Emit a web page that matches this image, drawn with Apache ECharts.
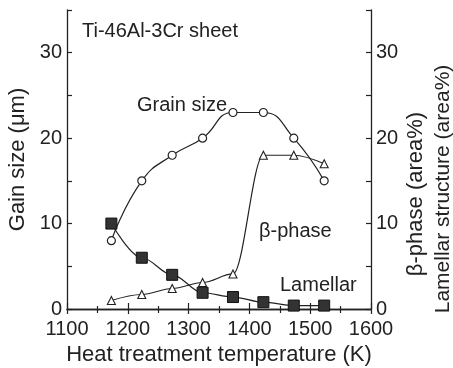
<!DOCTYPE html>
<html><head><meta charset="utf-8">
<script src="https://cdn.jsdelivr.net/npm/echarts@6/dist/echarts.min.js"></script>
<style>html,body{margin:0;padding:0;background:#fff}#c{width:453px;height:368px}</style>
</head><body><div id="c"></div>
<script>
const temperatures = [1173, 1223, 1273, 1323, 1373, 1423, 1473, 1523];
const grainSize   = [8, 15, 18, 20, 23, 23, 20, 15];
const betaPhase   = [1.0, 1.7, 2.4, 3.1, 4.1, 18, 18, 17];
const lamellar    = [10, 6.0, 4.0, 1.9, 1.4, 0.8, 0.4, 0.4];
const xTickLabels = [1100, 1200, 1300, 1400, 1500, 1600];
const yTickLabels = [0, 10, 20, 30];
const plotLabels  = ['Ti-46Al-3Cr sheet', 'Grain size', 'β-phase', 'Lamellar'];
const axisTitles  = ['Heat treatment temperature (K)', 'Gain size (μm)', 'β-phase (area%)', 'Lamellar structure (area%)'];

const INK = '#222';
const FONT = '"Liberation Sans", Arial, Helvetica, sans-serif';
const pairs = arr => temperatures.map((t, i) => [t, arr[i]]);

const chart = echarts.init(document.getElementById('c'), null, {renderer: 'canvas'});

const xBase = {
  type: 'value', min: 1100, max: 1600, interval: 100,
  axisLine: {show: true, lineStyle: {color: INK, width: 1.3}},
  splitLine: {show: false},
  minorSplitLine: {show: false}
};
const yBase = {
  type: 'value', min: 0, max: 35, interval: 5,
  axisLine: {show: true, lineStyle: {color: INK, width: 1.3}},
  axisTick: {show: true, inside: true, length: 5, lineStyle: {color: INK, width: 1.2}},
  splitLine: {show: false},
  axisLabel: {
    show: true, color: INK, fontFamily: FONT, fontSize: 20, margin: 5,
    formatter: v => yTickLabels.includes(v) ? String(v) : ''
  }
};

chart.setOption({
  backgroundColor: '#fff',
  animation: false,
  grid: {left: 67, right: 82, top: 10, bottom: 59, containLabel: false, outerBoundsMode: 'none'},
  xAxis: [
    Object.assign({}, xBase, {
      position: 'bottom',
      name: axisTitles[0], nameLocation: 'middle', nameGap: 33,
      nameTextStyle: {color: INK, fontFamily: FONT, fontSize: 22},
      axisTick: {show: true, inside: true, length: 6, lineStyle: {color: INK, width: 1.2}},
      minorTick: {show: true, splitNumber: 2, length: 3, lineStyle: {color: INK, width: 1.2}},
      axisLabel: {show: true, color: INK, fontFamily: FONT, fontSize: 20, margin: 10,
        formatter: v => xTickLabels.includes(v) ? String(v) : ''}
    }),
    Object.assign({}, xBase, {
      position: 'top',
      axisTick: {show: true, inside: true, length: 5, lineStyle: {color: INK, width: 1.2}},
      minorTick: {show: true, splitNumber: 2, length: 4, lineStyle: {color: INK, width: 1.2}},
      axisLabel: {show: false}
    })
  ],
  yAxis: [
    Object.assign({}, yBase, {
      position: 'left',
      name: axisTitles[1], nameLocation: 'middle', nameGap: 36,
      nameTextStyle: {color: INK, fontFamily: FONT, fontSize: 22}
    }),
    Object.assign({}, yBase, {position: 'right'})
  ],
  series: [
    {
      name: 'Grain size', type: 'line', xAxisIndex: 0, yAxisIndex: 0,
      data: pairs(grainSize), smooth: 0.5,
      symbol: 'circle', symbolSize: 8,
      lineStyle: {color: INK, width: 1.2},
      itemStyle: {color: '#fff', borderColor: INK, borderWidth: 1.2},
      z: 3
    },
    {
      name: 'β-phase', type: 'line', xAxisIndex: 0, yAxisIndex: 1,
      data: pairs(betaPhase), smooth: 0.35, smoothMonotone: 'x',
      symbol: 'triangle', symbolSize: 8,
      lineStyle: {color: INK, width: 1.2},
      itemStyle: {color: '#fff', borderColor: INK, borderWidth: 1.1},
      z: 3
    },
    {
      name: 'Lamellar', type: 'line', xAxisIndex: 0, yAxisIndex: 1,
      data: pairs(lamellar), smooth: 0.35, smoothMonotone: 'x',
      symbol: 'rect', symbolSize: 11,
      lineStyle: {color: INK, width: 1.2},
      itemStyle: {color: '#333', borderColor: '#111', borderWidth: 1},
      z: 4
    }
  ],
  graphic: [
    {type: 'text', x: 82, y: 31, style: {text: plotLabels[0], font: '20px ' + FONT, fill: INK, align: 'left', verticalAlign: 'middle', textAlign: 'left', textVerticalAlign: 'middle'}},
    {type: 'text', x: 137, y: 105, style: {text: plotLabels[1], font: '20px ' + FONT, fill: INK, align: 'left', verticalAlign: 'middle', textAlign: 'left', textVerticalAlign: 'middle'}},
    {type: 'text', x: 259, y: 231, style: {text: plotLabels[2], font: '20px ' + FONT, fill: INK, align: 'left', verticalAlign: 'middle', textAlign: 'left', textVerticalAlign: 'middle'}},
    {type: 'text', x: 280, y: 285, style: {text: plotLabels[3], font: '20px ' + FONT, fill: INK, align: 'left', verticalAlign: 'middle', textAlign: 'left', textVerticalAlign: 'middle'}},
    {type: 'text', x: 416, y: 194, rotation: Math.PI / 2, style: {text: axisTitles[2], font: '22px ' + FONT, fill: INK, align: 'center', verticalAlign: 'middle', textAlign: 'center', textVerticalAlign: 'middle'}},
    {type: 'text', x: 443, y: 189, rotation: Math.PI / 2, style: {text: axisTitles[3], font: '21px ' + FONT, fill: INK, align: 'center', verticalAlign: 'middle', textAlign: 'center', textVerticalAlign: 'middle'}}
  ]
});
</script></body></html>
